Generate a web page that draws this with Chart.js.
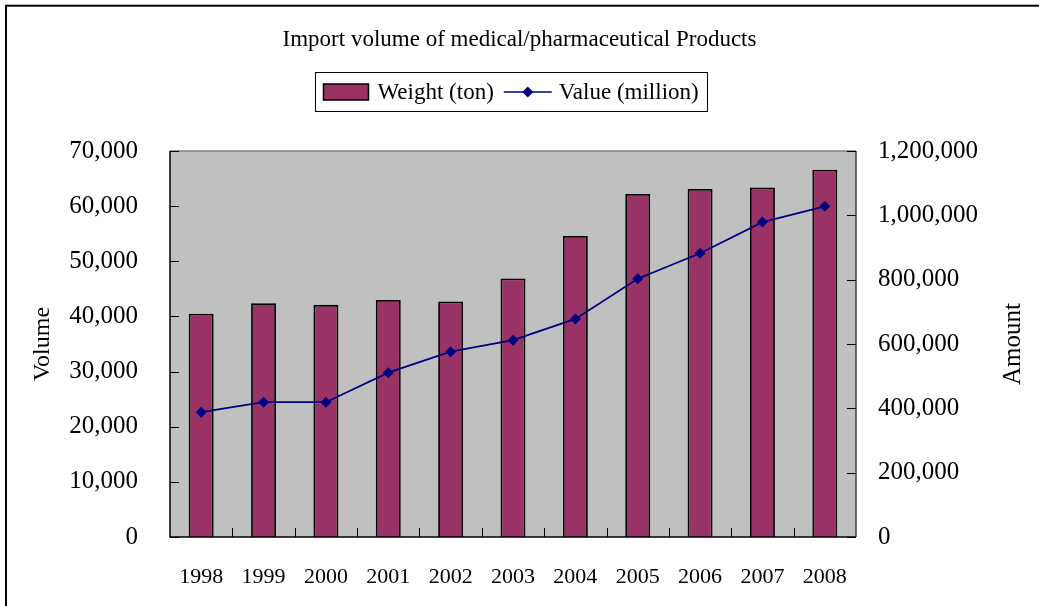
<!DOCTYPE html>
<html>
<head>
<meta charset="utf-8">
<title>Import volume of medical/pharmaceutical Products</title>
<script src="https://cdn.jsdelivr.net/npm/chart.js@4.4.1/dist/chart.umd.min.js"></script>
<style>
  html, body { margin: 0; padding: 0; background: #fff; overflow: hidden; }
  #wrap { position: relative; width: 1039px; height: 606px; }
</style>
</head>
<body>
<div id="wrap"><canvas id="myChart"></canvas></div>
<script>
'use strict';

// data
const years = ['1998', '1999', '2000', '2001', '2002', '2003', '2004', '2005', '2006', '2007', '2008'];
const weightTon = [40500, 42400, 42100, 43000, 42700, 46900, 54600, 62200, 63100, 63400, 66600];
const valueMillion = [388000, 419000, 419000, 511000, 576000, 612000, 678000, 803000, 882000, 979000, 1028000];

const volumeMax = 70000;
const volumeStep = 10000;
const amountMax = 1200000;
const amountStep = 200000;

const FONT = '"Liberation Serif", "Times New Roman", serif';
const barColor = '#993366';
const lineColor = '#000080';

function fmt(v) {
    return Number(v).toLocaleString('en-US');
}

// background, plot frame, inward ticks, legend, right axis title
const chartDecor = {
    id: 'chartDecor',
    beforeDraw(chart) {
        const ctx = chart.ctx;
        const a = chart.chartArea;
        ctx.save();
        ctx.fillStyle = '#ffffff';
        ctx.fillRect(0, 0, chart.width, chart.height);
        ctx.fillStyle = '#c0c0c0';
        ctx.fillRect(a.left, a.top, a.right - a.left, a.bottom - a.top);
        ctx.restore();
    },
    afterDraw(chart) {
        const ctx = chart.ctx;
        const a = chart.chartArea;
        const x = chart.scales.x;
        const y = chart.scales.y;
        const y1 = chart.scales.y1;
        ctx.save();

        // plot area border
        ctx.lineWidth = 1.5;
        ctx.strokeStyle = '#808080';
        ctx.beginPath();
        ctx.moveTo(a.left, a.top);
        ctx.lineTo(a.right, a.top);
        ctx.stroke();
        ctx.strokeStyle = '#404040';
        ctx.beginPath();
        ctx.moveTo(a.right, a.top);
        ctx.lineTo(a.right, a.bottom);
        ctx.stroke();
        ctx.strokeStyle = '#000000';
        ctx.beginPath();
        ctx.moveTo(a.left, a.top);
        ctx.lineTo(a.left, a.bottom);
        ctx.lineTo(a.right, a.bottom);
        ctx.stroke();

        // tick marks pointing inwards
        ctx.lineWidth = 1;
        ctx.strokeStyle = '#000000';
        ctx.beginPath();
        y.ticks.forEach(t => {
            const py = Math.round(y.getPixelForValue(t.value)) + 0.5;
            ctx.moveTo(a.left, py);
            ctx.lineTo(a.left + 9, py);
        });
        y1.ticks.forEach(t => {
            const py = Math.round(y1.getPixelForValue(t.value)) + 0.5;
            ctx.moveTo(a.right - 9, py);
            ctx.lineTo(a.right, py);
        });
        for (let i = 1; i < years.length; i++) {
            const px = Math.round((x.getPixelForValue(i - 1) + x.getPixelForValue(i)) / 2) + 0.5;
            ctx.moveTo(px, a.bottom);
            ctx.lineTo(px, a.bottom - 9);
        }
        ctx.stroke();

        // right axis title, reading bottom to top
        ctx.fillStyle = '#000000';
        ctx.font = '25px ' + FONT;
        ctx.textAlign = 'center';
        ctx.textBaseline = 'middle';
        ctx.save();
        ctx.translate(1013, (a.top + a.bottom) / 2);
        ctx.rotate(-Math.PI / 2);
        ctx.fillText('Amount', 0, 0);
        ctx.restore();

        // legend
        const ds = chart.data.datasets;
        ctx.font = '23px ' + FONT;
        const w1 = ctx.measureText(ds[0].label).width;
        const w2 = ctx.measureText(ds[1].label).width;
        const total = 8 + 45 + 9 + w1 + 10 + 48 + 7 + w2 + 9;
        const bx = Math.round(511 - total / 2) + 0.5;
        const by = 72.5;
        const bh = 39;
        const cy = by + bh / 2;
        ctx.lineWidth = 1;
        ctx.strokeStyle = '#000000';
        ctx.strokeRect(bx, by, Math.round(total), bh);

        let cx = bx + 8;
        ctx.fillStyle = barColor;
        ctx.fillRect(cx, cy - 8, 45, 16);
        ctx.lineWidth = 1.5;
        ctx.strokeRect(cx, cy - 8, 45, 16);
        cx += 45 + 9;
        ctx.fillStyle = '#000000';
        ctx.textAlign = 'left';
        ctx.fillText(ds[0].label, cx, cy + 1);
        cx += w1 + 10;

        ctx.strokeStyle = lineColor;
        ctx.lineWidth = 1.5;
        ctx.beginPath();
        ctx.moveTo(cx, cy);
        ctx.lineTo(cx + 48, cy);
        ctx.stroke();
        ctx.fillStyle = lineColor;
        ctx.beginPath();
        ctx.moveTo(cx + 24, cy - 5.5);
        ctx.lineTo(cx + 29.5, cy);
        ctx.lineTo(cx + 24, cy + 5.5);
        ctx.lineTo(cx + 18.5, cy);
        ctx.closePath();
        ctx.fill();
        cx += 48 + 7;
        ctx.fillStyle = '#000000';
        ctx.fillText(ds[1].label, cx, cy + 1);

        // outer frame of the chart object
        ctx.lineWidth = 2;
        ctx.strokeStyle = '#000000';
        ctx.strokeRect(6, 5.7, chart.width + 20, chart.height + 20);

        ctx.restore();
    }
};

const ctx = document.getElementById('myChart');

const myChart = new Chart(ctx, {
    type: 'bar',
    data: {
        labels: years,
        datasets: [{
            type: 'bar',
            label: 'Weight (ton)',
            data: weightTon,
            yAxisID: 'y',
            backgroundColor: barColor,
            borderColor: '#000000',
            borderWidth: 1.8,
            borderSkipped: 'bottom',
            barPercentage: 0.4,
            categoryPercentage: 1.0,
            order: 1
        },
        {
            type: 'line',
            label: 'Value (million)',
            data: valueMillion,
            yAxisID: 'y1',
            borderColor: lineColor,
            backgroundColor: lineColor,
            borderWidth: 1.8,
            pointStyle: 'rectRot',
            pointRadius: 5.5,
            pointBorderWidth: 0,
            pointBackgroundColor: lineColor,
            tension: 0,
            order: 0
        }]
    },
    options: {
        responsive: true,
        maintainAspectRatio: false,
        animation: false,
        layout: { padding: 0 },
        plugins: {
            legend: { display: false },
            tooltip: { enabled: false },
            title: {
                display: true,
                text: 'Import volume of medical/pharmaceutical Products',
                color: '#000000',
                font: { family: FONT, size: 23, weight: 'normal', lineHeight: 1.2 },
                padding: { top: 26, bottom: 97.4 }
            }
        },
        scales: {
            x: {
                offset: true,
                grid: { display: false, drawTicks: false },
                border: { display: false },
                ticks: {
                    color: '#000000',
                    padding: 27,
                    maxRotation: 0,
                    autoSkip: false,
                    font: { family: FONT, size: 22 }
                },
                afterFit: s => { s.height = 69; }
            },
            y: {
                position: 'left',
                min: 0,
                max: volumeMax,
                grid: { display: false, drawTicks: false },
                border: { display: false },
                ticks: {
                    stepSize: volumeStep,
                    color: '#000000',
                    padding: 32,
                    font: { family: FONT, size: 25 },
                    callback: v => fmt(v)
                },
                title: {
                    display: true,
                    text: 'Volume',
                    color: '#000000',
                    font: { family: FONT, size: 24 },
                    padding: { top: 28, bottom: 0 }
                },
                afterFit: s => { s.width = 170; }
            },
            y1: {
                position: 'right',
                min: 0,
                max: amountMax,
                grid: { display: false, drawTicks: false },
                border: { display: false },
                ticks: {
                    stepSize: amountStep,
                    color: '#000000',
                    padding: 22,
                    font: { family: FONT, size: 25 },
                    callback: v => fmt(v)
                },
                afterFit: s => { s.width = 183; }
            }
        }
    },
    plugins: [chartDecor]
});
</script>
</body>
</html>
